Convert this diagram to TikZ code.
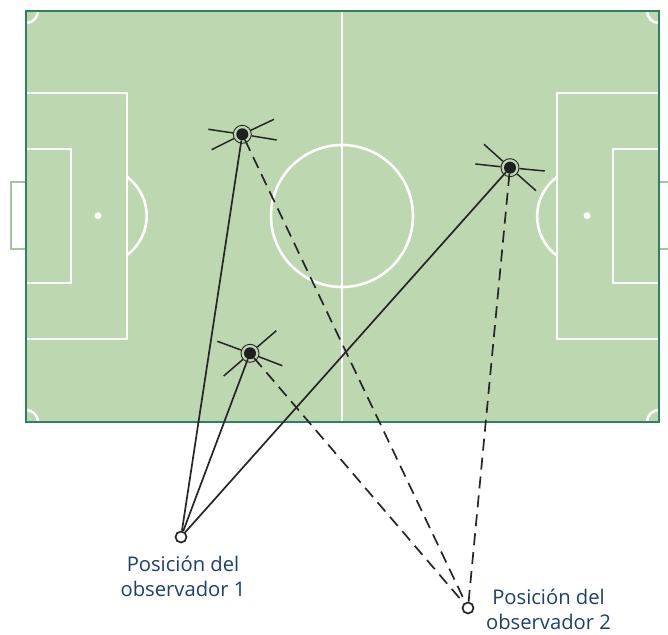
\documentclass[tikz,border=0pt]{standalone}
\usepackage{fontspec}
\setmainfont{Open Sans}
\definecolor{pitchgreen}{HTML}{BDD7B0}
\definecolor{pitchborder}{HTML}{2E8060}
\definecolor{goalgrey}{HTML}{A9C2A4}
\definecolor{labelblue}{HTML}{1B3F6E}
\tikzset{
	pitchline/.style={draw=white,line width=2.6pt},
	goalline/.style={draw=goalgrey,line width=2.6pt},
	player/.style={circle,fill=black!88,inner sep=0pt,minimum size=12pt},
	playerring/.style={circle,draw=black!85,line width=0.9pt,inner sep=0pt,minimum size=18pt},
	observer/.style={circle,draw=black!85,fill=white,line width=1.7pt,inner sep=0pt,minimum size=11pt},
	spoke/.style={-,draw=black!85,line width=1.5pt},
	sight/.style={-,draw=black!85,line width=1.7pt},
	sightdash/.style={sight,dash pattern=on 12pt off 7pt},
	observerlabel/.style={text=labelblue,font=\fontsize{20.2}{25}\selectfont,align=center,inner sep=0pt}
}
\begin{document}
\begin{tikzpicture}[x=1pt,y=1pt]
	\useasboundingbox (0,0) rectangle (668,634);
	\clip (0,0) rectangle (668,634);

	%porterias
	\draw[goalline] (26,452) -- (11,452) -- (11,385) -- (26,385);
	\draw[goalline] (659,452) -- (670,452) (670,385) -- (659,385);

	%terreno
	\fill[pitchgreen] (26,212) rectangle (659,623);
	\draw[pitchline] (342,212) -- (342,623);
	\draw[pitchline] (342,418) circle (71);
	\draw[pitchline] (26,541) -- (127,541) -- (127,295) -- (26,295);
	\draw[pitchline] (26,485) -- (71,485) -- (71,351) -- (26,351);
	\draw[pitchline] (659,541) -- (557,541) -- (557,295) -- (659,295);
	\draw[pitchline] (659,485) -- (613,485) -- (613,351) -- (659,351);
	\draw[pitchline] (127,379) arc (-53.5:53.5:48.6);
	\draw[pitchline] (557,457) arc (126.5:233.5:49);
	\draw[pitchline] (38,623) arc (0:-90:12);
	\draw[pitchline] (647,623) arc (180:270:12);
	\draw[pitchline] (38,212) arc (0:90:12);
	\draw[pitchline] (647,212) arc (180:90:12);
	\fill[white] (98,418.3) circle (3.5);
	\fill[white] (587,418.3) circle (3.5);
	\draw[pitchborder,line width=1.7pt] (26,212) rectangle (659,623);

	%jugadores
	\node (player 1) at(242.3,499.7) [player] {};
	\node (player 2) at(510,466.3) [player] {};
	\node (player 3) at(250,280.7) [player] {};
	\node (ring 1) at(242.3,499.7) [playerring] {};
	\node (ring 2) at(510,466.3) [playerring] {};
	\node (ring 3) at(250,280.7) [playerring] {};

	%observadores
	\node (observer 1) at(181,97) [observer] {};
	\node (observer 2) at(468,26) [observer] {};
	\node (label 1) at(183,57.5) [observerlabel] {Posición del\\observador 1};
	\node (label 2) at(548.5,25) [observerlabel] {Posición del\\observador 2};

	%extremos de las marcas
	\coordinate (end 1a) at(208.3,504.7);
	\coordinate (end 1b) at(276.7,494);
	\coordinate (end 1c) at(274,514.7);
	\coordinate (end 1d) at(211.7,484.3);
	\coordinate (end 2a) at(484,489.7);
	\coordinate (end 2b) at(536,443.3);
	\coordinate (end 2c) at(475.3,470);
	\coordinate (end 2d) at(544.7,463);
	\coordinate (end 3a) at(217.3,292.7);
	\coordinate (end 3b) at(282.3,268.3);
	\coordinate (end 3c) at(276.3,303.3);
	\coordinate (end 3d) at(223.7,258);

	\path
	(ring 1) edge[spoke] (end 1a)
	(ring 1) edge[spoke] (end 1b)
	(ring 1) edge[spoke] (end 1c)
	(ring 1) edge[spoke] (end 1d)
	(ring 2) edge[spoke] (end 2a)
	(ring 2) edge[spoke] (end 2b)
	(ring 2) edge[spoke] (end 2c)
	(ring 2) edge[spoke] (end 2d)
	(ring 3) edge[spoke] (end 3a)
	(ring 3) edge[spoke] (end 3b)
	(ring 3) edge[spoke] (end 3c)
	(ring 3) edge[spoke] (end 3d)
	;

	\path
	(observer 1) edge[sight] (player 1)
	(observer 1) edge[sight] (player 2)
	(observer 1) edge[sight] (player 3)
	(player 1) edge[sightdash] (observer 2)
	(player 2) edge[sightdash] (observer 2)
	(player 3) edge[sightdash] (observer 2)
	;
\end{tikzpicture}
\end{document}
